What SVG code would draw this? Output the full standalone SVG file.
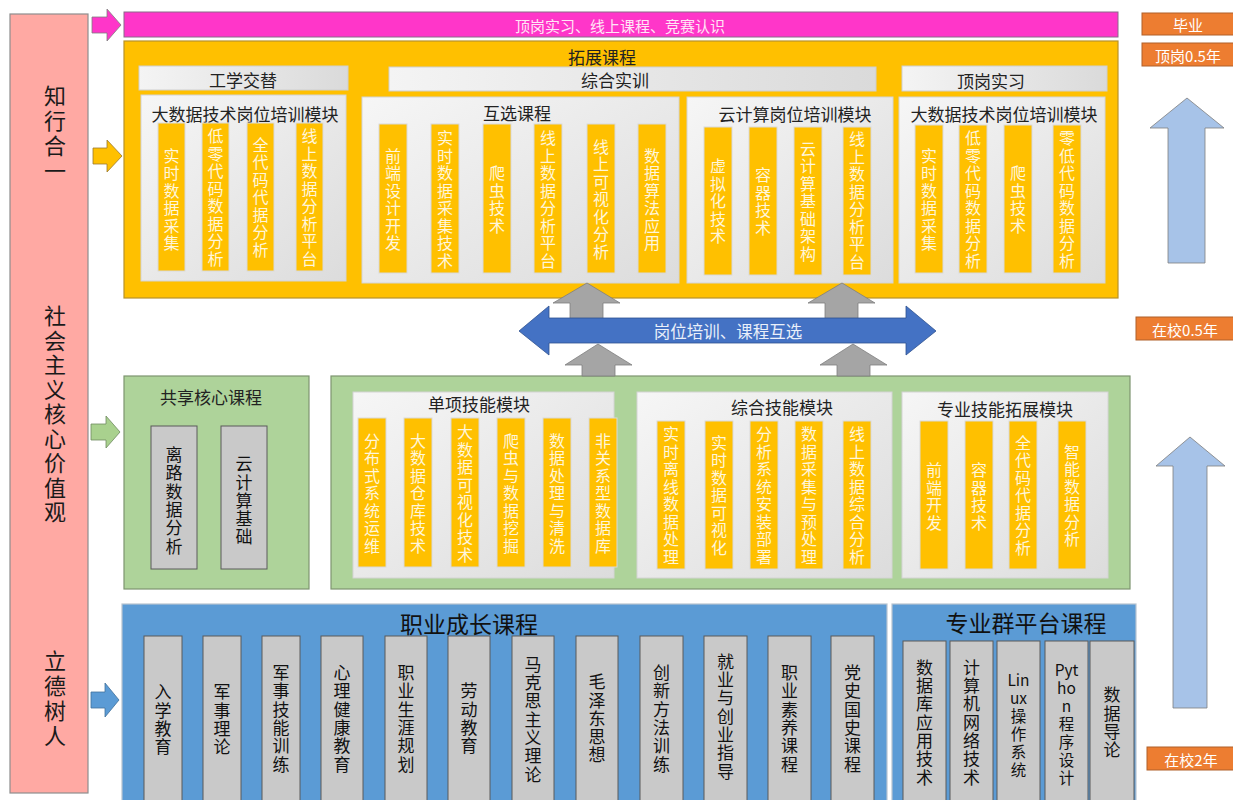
<svg xmlns="http://www.w3.org/2000/svg" width="1233" height="800" viewBox="0 0 1233 800">
<defs>
<linearGradient id="gp" x1="0" y1="0" x2="1" y2="1">
<stop offset="0" stop-color="#F6F6F6"/><stop offset="1" stop-color="#DCDCDC"/>
</linearGradient>
<linearGradient id="gh" x1="0" y1="0" x2="1" y2="0">
<stop offset="0" stop-color="#F4F4F4"/><stop offset="1" stop-color="#DADADA"/>
</linearGradient>
<style>
text{font-family:"Noto Sans CJK SC","Noto Sans",sans-serif;}
.h{text-anchor:middle;dominant-baseline:central;}
.v{writing-mode:vertical-rl;text-anchor:middle;}
.ob{fill:#FFC000;stroke:#D9D9D9;stroke-width:1;}
.ot{fill:#FFF6DA;font-size:16px;letter-spacing:1.5px;}
.pn{fill:url(#gp);stroke:#D4D4D4;stroke-width:1;}
.hd{fill:url(#gh);stroke:#CFCFCF;stroke-width:1;}
.tt{fill:#222;font-size:17px;}
.gb{fill:#C9C9C9;stroke:#5A5A5A;stroke-width:1;}
.gt{fill:#111;font-size:17px;letter-spacing:1.3px;}
.lab{fill:#ED7D31;stroke:#B0602A;stroke-width:1;}
.lt{fill:#fff;font-size:15px;}
.st{fill:#111;font-size:15.5px;text-anchor:middle;dominant-baseline:central;}
</style>
</defs>

<g id="left-column">
<rect x="10" y="14" width="78" height="779" fill="#FFA9A3" stroke="#8E8E8E" stroke-width="1.2"/>
<text class="v" x="55" y="135" style="font-size:22px;letter-spacing:3px;fill:#1a1a1a">知行合一</text>
<text class="v" x="55" y="415" style="font-size:22px;letter-spacing:2.5px;fill:#1a1a1a">社会主义核心价值观</text>
<text class="v" x="55" y="700" style="font-size:22px;letter-spacing:3px;fill:#1a1a1a">立德树人</text>
</g>

<g id="top-bar">
<rect x="124" y="12" width="994" height="25" fill="#FF36C9" stroke="#8A6A8A" stroke-width="1"/>
<text class="h" x="620" y="25" style="font-size:15px;fill:#FFE6F6">顶岗实习、线上课程、竞赛认识</text>
</g>

<g id="expand-courses">
<rect x="124" y="41" width="994" height="257" fill="#FFC000" stroke="#B8922A" stroke-width="1.2"/>
<text class="h tt" x="602" y="56">拓展课程</text>
<rect class="hd" x="139" y="66" width="209" height="24"/>
<text class="h tt" x="243" y="79">工学交替</text>
<rect class="hd" x="389" y="67" width="487" height="24"/>
<text class="h tt" x="615" y="79">综合实训</text>
<rect class="hd" x="902" y="66" width="205" height="25"/>
<text class="h tt" x="991" y="80">顶岗实习</text>
</g>

<g id="panel-bigdata-left">
<rect class="pn" x="141" y="95" width="205" height="186"/>
<text class="h tt" x="245" y="113">大数据技术岗位培训模块</text>
<rect class="ob" x="158" y="123" width="27" height="148"/>
<rect class="ob" x="202" y="123" width="27" height="148"/>
<rect class="ob" x="247" y="123" width="27" height="148"/>
<rect class="ob" x="296" y="123" width="27" height="148"/>
<text class="v ot" x="171.5" y="200">实时数据采集</text>
<text class="v ot" x="215.5" y="198">低零代码数据分析</text>
<text class="v ot" x="260.5" y="198">全代码代据分析</text>
<text class="v ot" x="309.5" y="198">线上数据分析平台</text>
</g>

<g id="panel-mutual">
<rect class="pn" x="362" y="97" width="317" height="186"/>
<text class="h tt" x="517" y="112">互选课程</text>
<rect class="ob" x="379" y="124" width="28" height="149"/>
<rect class="ob" x="431" y="124" width="28" height="149"/>
<rect class="ob" x="483" y="124" width="28" height="149"/>
<rect class="ob" x="534" y="124" width="28" height="149"/>
<rect class="ob" x="587" y="124" width="28" height="149"/>
<rect class="ob" x="638" y="124" width="28" height="149"/>
<text class="v ot" x="393" y="200">前端设计开发</text>
<text class="v ot" x="445" y="200">实时数据采集技术</text>
<text class="v ot" x="497" y="200">爬虫技术</text>
<text class="v ot" x="548" y="200">线上数据分析平台</text>
<text class="v ot" x="601" y="200">线上可视化分析</text>
<text class="v ot" x="652" y="200">数据算法应用</text>
</g>

<g id="panel-cloud">
<rect class="pn" x="687" y="97" width="206" height="186"/>
<text class="h tt" x="795" y="113">云计算岗位培训模块</text>
<rect class="ob" x="704" y="127" width="28" height="148"/>
<rect class="ob" x="749" y="127" width="28" height="148"/>
<rect class="ob" x="794" y="127" width="28" height="148"/>
<rect class="ob" x="843" y="127" width="28" height="148"/>
<text class="v ot" x="718" y="202">虚拟化技术</text>
<text class="v ot" x="763" y="202">容器技术</text>
<text class="v ot" x="808" y="202">云计算基础架构</text>
<text class="v ot" x="857" y="201">线上数据分析平台</text>
</g>

<g id="panel-bigdata-right">
<rect class="pn" x="899" y="97" width="206" height="186"/>
<text class="h tt" x="1004" y="113">大数据技术岗位培训模块</text>
<rect class="ob" x="915" y="125" width="28" height="148"/>
<rect class="ob" x="959" y="125" width="28" height="148"/>
<rect class="ob" x="1004" y="125" width="28" height="148"/>
<rect class="ob" x="1053" y="125" width="28" height="148"/>
<text class="v ot" x="929" y="200">实时数据采集</text>
<text class="v ot" x="973" y="200">低零代码数据分析</text>
<text class="v ot" x="1018" y="200">爬虫技术</text>
<text class="v ot" x="1067" y="200">零低代码数据分析</text>
</g>

<g id="shared-core">
<rect x="124" y="376" width="185" height="213" fill="#AED39A" stroke="#7D9570" stroke-width="1.2"/>
<text class="h tt" x="211" y="396">共享核心课程</text>
<rect class="gb" x="151" y="426" width="46" height="143"/>
<rect class="gb" x="221" y="426" width="46" height="143"/>
<text class="v gt" x="174" y="501">离路数据分析</text>
<text class="v gt" x="244" y="501">云计算基础</text>
</g>

<g id="skill-modules">
<rect x="331" y="376" width="799" height="213" fill="#AED39A" stroke="#7D9570" stroke-width="1.2"/>
</g>

<g id="panel-single">
<rect class="pn" x="353" y="392" width="261" height="186"/>
<text class="h tt" x="479" y="403">单项技能模块</text>
<rect class="ob" x="358" y="418" width="28" height="149"/>
<rect class="ob" x="404" y="418" width="28" height="149"/>
<rect class="ob" x="451" y="418" width="28" height="149"/>
<rect class="ob" x="497" y="418" width="28" height="149"/>
<rect class="ob" x="543" y="418" width="28" height="149"/>
<rect class="ob" x="589" y="418" width="28" height="149"/>
<text class="v ot" x="372" y="494">分布式系统运维</text>
<text class="v ot" x="418" y="494">大数据仓库技术</text>
<text class="v ot" x="465" y="494">大数据可视化技术</text>
<text class="v ot" x="511" y="494">爬虫与数据挖掘</text>
<text class="v ot" x="557" y="494">数据处理与清洗</text>
<text class="v ot" x="603" y="494">非关系型数据库</text>
</g>

<g id="panel-integrated">
<rect class="pn" x="637" y="392" width="255" height="186"/>
<text class="h tt" x="782" y="406">综合技能模块</text>
<rect class="ob" x="657" y="421" width="28" height="148"/>
<rect class="ob" x="705" y="421" width="28" height="148"/>
<rect class="ob" x="750" y="421" width="28" height="148"/>
<rect class="ob" x="795" y="421" width="28" height="148"/>
<rect class="ob" x="843" y="421" width="28" height="148"/>
<text class="v ot" x="671" y="496">实时离线数据处理</text>
<text class="v ot" x="719" y="496">实时数据可视化</text>
<text class="v ot" x="764" y="496">分析系统安装部署</text>
<text class="v ot" x="809" y="496">数据采集与预处理</text>
<text class="v ot" x="857" y="496">线上数据综合分析</text>
</g>

<g id="panel-extension">
<rect class="pn" x="902" y="392" width="206" height="186"/>
<text class="h tt" x="1005" y="408">专业技能拓展模块</text>
<rect class="ob" x="920" y="421" width="28" height="148"/>
<rect class="ob" x="965" y="421" width="28" height="148"/>
<rect class="ob" x="1009" y="421" width="28" height="148"/>
<rect class="ob" x="1058" y="421" width="28" height="148"/>
<text class="v ot" x="934" y="497">前端开发</text>
<text class="v ot" x="979" y="497">容器技术</text>
<text class="v ot" x="1023" y="496">全代码代据分析</text>
<text class="v ot" x="1072" y="496">智能数据分析</text>
</g>

<g id="career-growth">
<rect x="122" y="604" width="765" height="205" fill="#5B9BD5" stroke="#B8C4D0" stroke-width="1.2"/>
<text class="h" x="469" y="623" style="font-size:23px;fill:#111">职业成长课程</text>
<rect class="gb" x="144" y="636" width="38" height="175"/>
<rect class="gb" x="203" y="636" width="38" height="175"/>
<rect class="gb" x="262" y="636" width="38" height="175"/>
<rect class="gb" x="321" y="636" width="42" height="175"/>
<rect class="gb" x="385" y="636" width="42" height="175"/>
<rect class="gb" x="448" y="636" width="42" height="175"/>
<rect class="gb" x="512" y="636" width="42" height="175"/>
<rect class="gb" x="576" y="636" width="42" height="175"/>
<rect class="gb" x="640" y="636" width="43" height="175"/>
<rect class="gb" x="704" y="636" width="43" height="175"/>
<rect class="gb" x="768" y="636" width="43" height="175"/>
<rect class="gb" x="831" y="636" width="43" height="175"/>
<text class="v gt" x="163" y="720">入学教育</text>
<text class="v gt" x="222" y="720">军事理论</text>
<text class="v gt" x="281" y="719">军事技能训练</text>
<text class="v gt" x="342" y="719">心理健康教育</text>
<text class="v gt" x="406" y="719">职业生涯规划</text>
<text class="v gt" x="469" y="719">劳动教育</text>
<text class="v gt" x="533" y="720">马克思主义理论</text>
<text class="v gt" x="597" y="719">毛泽东思想</text>
<text class="v gt" x="661.5" y="719">创新方法训练</text>
<text class="v gt" x="725.5" y="717">就业与创业指导</text>
<text class="v gt" x="789.5" y="719">职业素养课程</text>
<text class="v gt" x="852.5" y="719">党史国史课程</text>
</g>

<g id="platform-courses">
<rect x="892" y="604" width="244" height="205" fill="#5B9BD5" stroke="#B8C4D0" stroke-width="1.2"/>
<text class="h" x="1026" y="622" style="font-size:23px;fill:#111">专业群平台课程</text>
<rect class="gb" x="903" y="641" width="43" height="170"/>
<rect class="gb" x="950" y="641" width="43" height="170"/>
<rect class="gb" x="997" y="641" width="43" height="170"/>
<rect class="gb" x="1045" y="641" width="43" height="170"/>
<rect class="gb" x="1090" y="641" width="44" height="170"/>
<text class="v gt" x="924.5" y="723">数据库应用技术</text>
<text class="v gt" x="971.5" y="723">计算机网络技术</text>
<text class="st"><tspan x="1018.5" y="679">Lin</tspan><tspan x="1018.5" y="697">ux</tspan><tspan x="1018.5" y="715">操</tspan><tspan x="1018.5" y="733">作</tspan><tspan x="1018.5" y="751">系</tspan><tspan x="1018.5" y="769">统</tspan></text>
<text class="st"><tspan x="1066.5" y="669">Pyt</tspan><tspan x="1066.5" y="687">ho</tspan><tspan x="1066.5" y="705">n</tspan><tspan x="1066.5" y="723">程</tspan><tspan x="1066.5" y="741">序</tspan><tspan x="1066.5" y="759">设</tspan><tspan x="1066.5" y="777">计</tspan></text>
<text class="v gt" x="1112" y="723">数据导论</text>
</g>

<g id="stage-labels">
<rect class="lab" x="1142" y="13" width="92" height="22"/>
<text class="h lt" x="1188" y="24">毕业</text>
<rect class="lab" x="1142" y="43" width="92" height="23"/>
<text class="h lt" x="1188" y="55">顶岗0.5年</text>
<rect class="lab" x="1136" y="317" width="98" height="23"/>
<text class="h lt" x="1185" y="329">在校0.5年</text>
<rect class="lab" x="1147" y="747" width="87" height="23"/>
<text class="h lt" x="1191" y="759">在校2年</text>
</g>

<g id="connectors">
<polygon points="92,17 107,17 107,9 121,25 107,41 107,33 92,33" fill="#FF36C9" stroke="#7F7F7F" stroke-width="0.8"/>
<polygon points="93,148 107,148 107,140 122,156 107,172 107,164 93,164" fill="#FFC000" stroke="#9A7A30" stroke-width="0.8"/>
<polygon points="91,424 106,424 106,416 120,432 106,448 106,440 91,440" fill="#A9D18E" stroke="#6F8A60" stroke-width="0.8"/>
<polygon points="91,692 105,692 105,683 119,700 105,717 105,708 91,708" fill="#5B9BD5" stroke="#41719C" stroke-width="0.8"/>
<polygon points="587,283 620,303 603,303 603,320 570,320 570,303 553,303" fill="#A5A5A5" stroke="#7F7F7F" stroke-width="0.8"/>
<polygon points="842,283 875,303 858,303 858,320 825,320 825,303 808,303" fill="#A5A5A5" stroke="#7F7F7F" stroke-width="0.8"/>
<polygon points="598,344 632,365 615,365 615,376 582,376 582,365 565,365" fill="#A5A5A5" stroke="#7F7F7F" stroke-width="0.8"/>
<polygon points="853,344 887,365 870,365 870,376 837,376 837,365 820,365" fill="#A5A5A5" stroke="#7F7F7F" stroke-width="0.8"/>
<polygon points="519,331 549,306 549,318 906,318 906,306 936,331 906,355 906,343 549,343 549,355" fill="#4472C4" stroke="#2F528F" stroke-width="0.8"/>
<text class="h" x="728" y="331" style="font-size:16.5px;fill:#EAF0FA">岗位培训、课程互选</text>
<polygon points="1187,98 1224,128 1205,128 1205,263 1168,263 1168,128 1150,128" fill="#A7C3E8" stroke="#7F7F7F" stroke-width="0.8"/>
<polygon points="1190,437 1225,466 1207,466 1207,708 1173,708 1173,466 1156,466" fill="#A7C3E8" stroke="#7F7F7F" stroke-width="0.8"/>
</g>
</svg>
